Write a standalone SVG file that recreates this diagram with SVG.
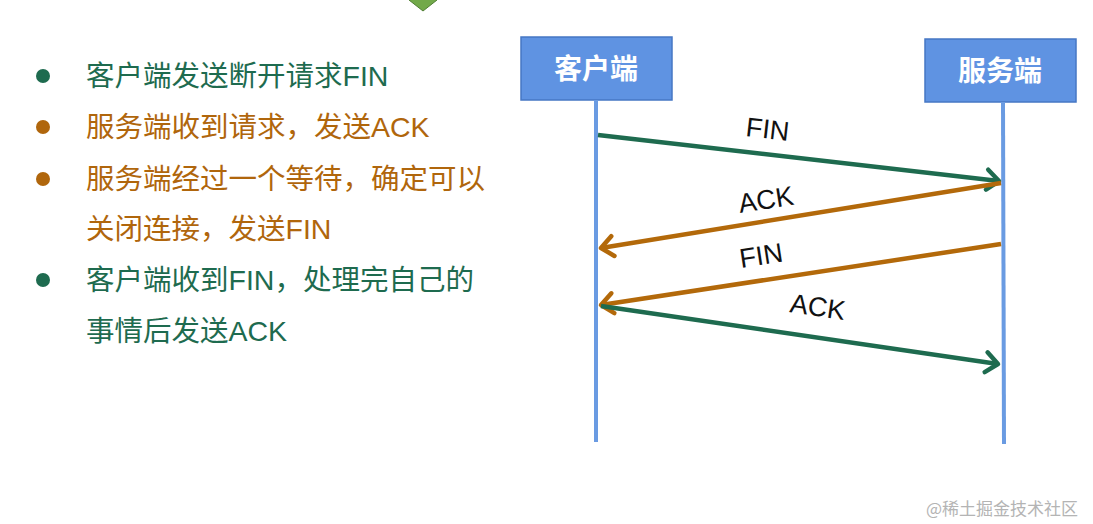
<svg xmlns="http://www.w3.org/2000/svg" width="1093" height="524" viewBox="0 0 1093 524">
<style>
.t{font-family:"Liberation Sans","Noto Sans CJK SC",sans-serif;font-size:28.5px}
.g{fill:#1e6b4f}
.o{fill:#b0660c}
.box{fill:#5f93e2;stroke:#4677c4;stroke-width:1.5}
.bt{font-family:"Noto Sans CJK SC",sans-serif;font-size:28px;font-weight:bold;fill:#fff;text-anchor:middle}
.life{stroke:#6a9be2;stroke-width:4}
.lbl{font-family:"Liberation Sans",sans-serif;font-size:27px;fill:#111}
.ag{stroke:#1e6b4f;stroke-width:4.5;fill:none}
.ao{stroke:#b3690a;stroke-width:4.5;fill:none}
</style>
<defs>
<marker id="mg" markerUnits="userSpaceOnUse" markerWidth="32" markerHeight="32" refX="15" refY="11" orient="auto" viewBox="0 0 32 22">
<path d="M3,1 L15,11 L3,21" fill="none" stroke="#1e6b4f" stroke-width="4.5" stroke-linecap="round" stroke-linejoin="round"/>
</marker>
<marker id="mo" markerUnits="userSpaceOnUse" markerWidth="32" markerHeight="32" refX="15" refY="11" orient="auto" viewBox="0 0 32 22">
<path d="M3,1 L15,11 L3,21" fill="none" stroke="#b3690a" stroke-width="4.5" stroke-linecap="round" stroke-linejoin="round"/>
</marker>
</defs>
<rect width="1093" height="524" fill="#fff"/>
<polygon points="423,-13 437,0 423,11 409,0" fill="#72a94a" stroke="#4f7e33" stroke-width="1"/>
<g id="bullets">
<circle cx="43" cy="76" r="7" class="g"/>
<circle cx="43" cy="127" r="7" class="o"/>
<circle cx="43" cy="179" r="7" class="o"/>
<circle cx="43" cy="280" r="7" class="g"/>
<text x="86" y="86" class="t g">客户端发送断开请求FIN</text>
<text x="86" y="137" class="t o">服务端收到请求，发送ACK</text>
<text x="86" y="189" class="t o">服务端经过一个等待，确定可以</text>
<text x="86" y="239" class="t o">关闭连接，发送FIN</text>
<text x="86" y="290" class="t g">客户端收到FIN，处理完自己的</text>
<text x="86" y="341" class="t g">事情后发送ACK</text>
</g>
<g id="client">
<rect x="521" y="37" width="151" height="63" class="box"/>
<text x="596" y="79" class="bt">客户端</text>
<line x1="596" y1="100" x2="596" y2="442" class="life"/>
</g>
<g id="server">
<rect x="925" y="39" width="151" height="63" class="box"/>
<text x="1000" y="81" class="bt">服务端</text>
<line x1="1003" y1="102" x2="1004" y2="444" class="life"/>
</g>
<g id="connectors">
<line x1="598" y1="135" x2="999" y2="181" class="ag" marker-end="url(#mg)"/>
<line x1="1001" y1="183" x2="601" y2="248" class="ao" marker-end="url(#mo)"/>
<line x1="1001" y1="244" x2="601" y2="305" class="ao" marker-end="url(#mo)"/>
<line x1="601" y1="306" x2="998" y2="364" class="ag" marker-end="url(#mg)"/>
<text class="lbl" transform="translate(745,136) rotate(6.5)">FIN</text>
<text class="lbl" transform="translate(740,213) rotate(-9)">ACK</text>
<text class="lbl" transform="translate(741,268) rotate(-8.7)">FIN</text>
<text class="lbl" transform="translate(789,312) rotate(8.3)">ACK</text>
</g>
<text x="926" y="515" font-family="Noto Sans CJK SC,sans-serif" font-size="17" fill="#b4b4b4">@稀土掘金技术社区</text>
</svg>
